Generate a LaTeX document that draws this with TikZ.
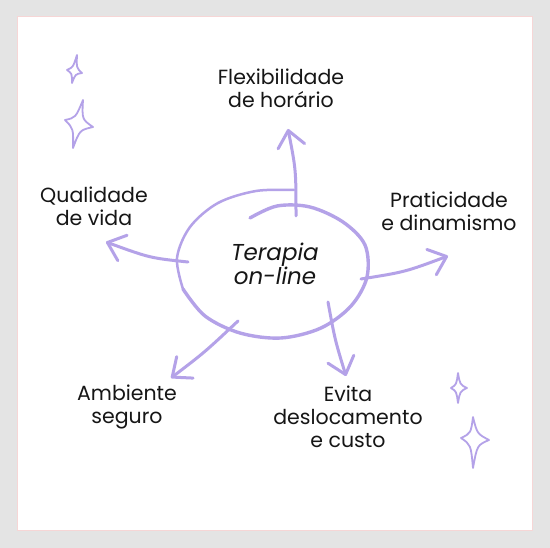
\documentclass[tikz,border=0pt]{standalone}
\usepackage{fontspec}
\setmainfont{Poppins}
\usetikzlibrary{arrows.meta, positioning, calc}

\definecolor{lavender}{RGB}{180,162,232}
\definecolor{pagegray}{RGB}{228,228,228}
\definecolor{blush}{RGB}{246,214,214}
\definecolor{ink}{RGB}{22,22,22}

% four-pointed sparkle: centre, top, right, bottom, left
\newcommand{\sparkle}[5]{%
  \coordinate (sc) at #1; \coordinate (st) at #2; \coordinate (sr) at #3;
  \coordinate (sb) at #4; \coordinate (sl) at #5;
  \draw[star line] (st)
    .. controls ($(sc)!0.45!($(st)!0.5!(sr)$)$) .. (sr)
    .. controls ($(sc)!0.45!($(sr)!0.5!(sb)$)$) .. (sb)
    .. controls ($(sc)!0.45!($(sb)!0.5!(sl)$)$) .. (sl)
    .. controls ($(sc)!0.45!($(sl)!0.5!(st)$)$) .. cycle;}

\begin{document}
\begin{tikzpicture}[
    x=1pt, y=-1pt,
    topic/.style={align=center, inner sep=0pt, anchor=north, text=ink,
      font=\fontsize{20.5}{23}\selectfont},
    hub/.style={align=center, inner sep=0pt, text=ink,
      font=\fontsize{23}{24}\selectfont\itshape},
    hub line/.style={draw=lavender, line width=3pt, line cap=round},
    arrow/.style={draw=lavender, line width=3pt, line cap=round,
      -{Straight Barb[length=16pt, width=27pt, line width=3pt, round]}},
    star line/.style={draw=lavender, line width=1.8pt, line join=round}
]

% page
\fill[pagegray] (0,0) rectangle (550,548);
\filldraw[fill=white, draw=blush, line width=1pt] (17,17) rectangle (532,531);

% centre
\node[hub] (hub) at (275,264) {Terapia\\on-line};
\draw[hub line, line width=2.5pt] plot[smooth, tension=0.55] coordinates {
  (294,190) (256,191) (218,203) (190,227) (177,258) (183,289)};
\draw[hub line, line width=3.4pt] plot[smooth, tension=0.55] coordinates {
  (183,289) (205,316) (240,333) (281,338) (321,328) (351,306)
  (367,277) (365,245) (343,222) (310,207) (277,206) (250,218)};

% topics
\node[topic] (flex)  at (281,69)  {Flexibilidade\\de horário};
\node[topic] (life)  at (94,187)  {Qualidade\\de vida};
\node[topic] (easy)  at (449,192) {Praticidade\\e dinamismo};
\node[topic] (safe)  at (127,385) {Ambiente\\seguro};
\node[topic] (trip)  at (348,386) {Evita\\deslocamento\\e custo};

% arrow ends
\coordinate (flexS) at (296,216);  \coordinate (flexE) at (288,129);
\coordinate (lifeS) at (188,262);  \coordinate (lifeE) at (106,242);
\coordinate (easyS) at (361,279);  \coordinate (easyE) at (448,256);
\coordinate (safeS) at (238,321);  \coordinate (safeE) at (171,378);
\coordinate (tripS) at (328,302);  \coordinate (tripE) at (346,376);

\draw[arrow] (flexS) .. controls (296,170) .. (flexE);
\draw[arrow] (lifeS) .. controls (150,258) .. (lifeE);
\draw[arrow] (easyS) .. controls (405,272) .. (easyE);
\draw[arrow] (safeS) .. controls (205,352) .. (safeE);
\draw[arrow] (tripS) .. controls (335,340) .. (tripE);

% sparkles
\sparkle{(74,71)}{(77,55)}{(82,73)}{(72,83)}{(67,70)}
\sparkle{(77,124)}{(83,100)}{(93,127)}{(73,148)}{(65,120)}
\sparkle{(458,388)}{(458,373)}{(467,388)}{(458,403)}{(451,388)}
\sparkle{(474,438)}{(473,417)}{(489,440)}{(473,468)}{(461,438)}

\end{tikzpicture}
\end{document}
